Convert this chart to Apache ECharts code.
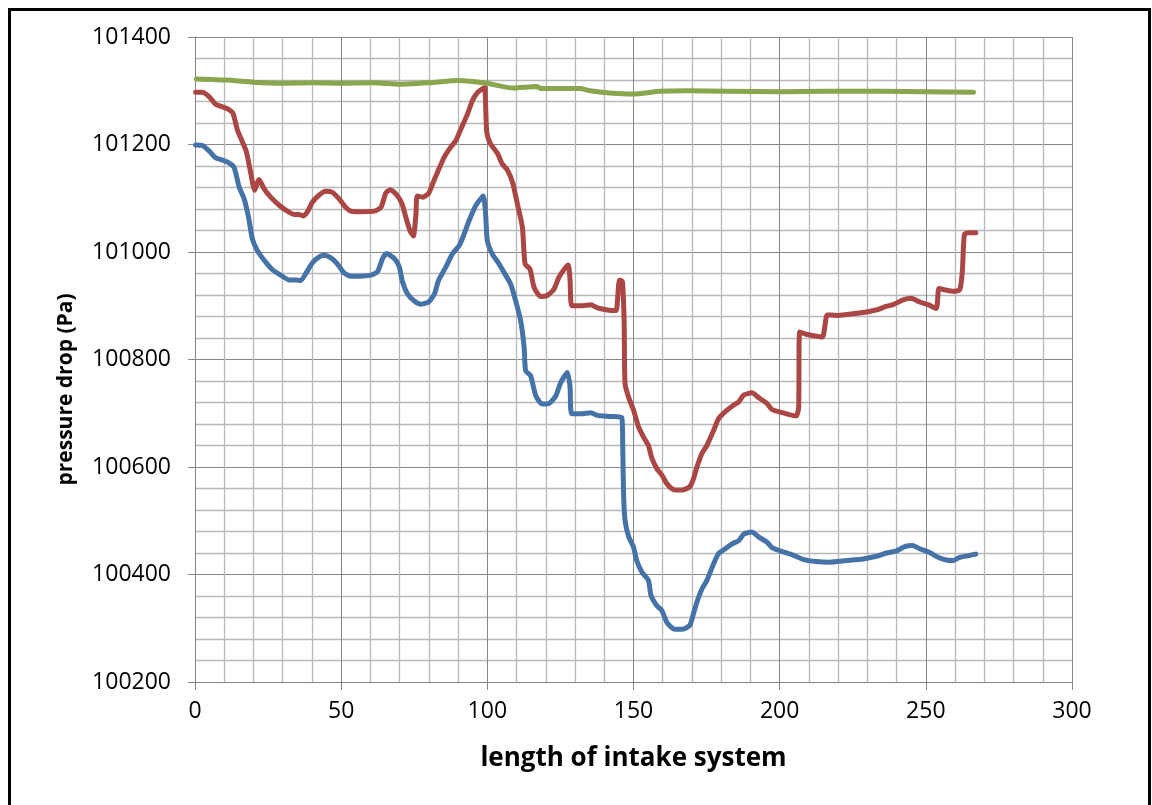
<!DOCTYPE html>
<html>
<head>
<meta charset="utf-8">
<script src="https://cdn.jsdelivr.net/npm/echarts@6/dist/echarts.min.js"></script>
<style>
  html, body { margin: 0; padding: 0; background: #fff; }
  #frame {
    position: absolute; left: 8px; top: 8px;
    width: 1143px; height: 900px;
    box-sizing: border-box; border: 3px solid #000;
  }
  #main { position: absolute; left: 0; top: 0; width: 1152px; height: 805px; }
</style>
</head>
<body>
<div id="frame"></div>
<div id="main"></div>
<script>
// x positions (length of intake system) and pressures (Pa)
const blueX = [0.2, 2.5, 4.8, 7.1, 9.4, 11.6, 13.4, 15.1, 16.8, 18.3, 19.6, 21.3, 23.6, 26.5, 29.3, 32.2, 34.5, 36.2, 37.9, 40.2,
  42.5, 44.1, 46.5, 48.7, 51, 53.3, 56.2, 60.2, 62.4, 64.2, 65.5, 68.2, 69.9, 71, 72.7, 75, 77.3, 79.9, 81.9, 83.3,
  85.8, 88.1, 90.4, 92.1, 93.8, 96.1, 98.6, 99.4, 100, 101.7, 104, 105.7, 108, 109.7, 111.4, 112.6, 113.1, 114.8, 116.6, 118.8,
  121.1, 123.4, 125.1, 127.4, 128.3, 128.8, 132, 135.4, 137.7, 142.2, 146, 146.3, 146.6, 147.1, 148.3, 150, 151.1, 152.9, 155.1, 156,
  158, 159.7, 161.4, 163.7, 166.6, 169.2, 170.5, 171.9, 173.4, 175.1, 177.4, 179.1, 181.4, 183.7, 186, 187.7, 190.5, 192.8, 195.7, 197.4,
  200.2, 204.6, 208, 212.5, 217.1, 222.8, 228.5, 233.1, 236.5, 240, 242.8, 245.4, 247.9, 251.3, 254.2, 257, 259.3, 261.6, 264.5, 267.1];
const blueY = [101199, 101198, 101188, 101175, 101171, 101166, 101157, 101121, 101099, 101065, 101025, 101003, 100985, 100967, 100957, 100948, 100948, 100947, 100960, 100980,
  100991, 100994, 100989, 100978, 100961, 100955, 100955, 100957, 100963, 100988, 100997, 100988, 100972, 100944, 100922, 100909, 100903, 100907, 100922, 100947,
  100972, 100997, 101012, 101034, 101059, 101087, 101104, 101071, 101021, 100996, 100978, 100962, 100940, 100909, 100872, 100822, 100779, 100770, 100732, 100717,
  100718, 100732, 100757, 100776, 100748, 100699, 100699, 100701, 100696, 100694, 100692, 100644, 100550, 100501, 100471, 100451, 100426, 100404, 100389, 100361,
  100342, 100333, 100311, 100299, 100298, 100305, 100327, 100352, 100373, 100389, 100420, 100439, 100448, 100457, 100463, 100475, 100479, 100470, 100460, 100450,
  100444, 100436, 100428, 100424, 100423, 100426, 100429, 100434, 100440, 100444, 100452, 100454, 100448, 100441, 100432, 100427, 100426, 100432, 100435, 100438];

const redX = [0.2, 2.5, 4.8, 7.1, 9.4, 11.6, 13, 14.5, 16.2, 17.6, 19.1, 20.4, 21.9, 23.6, 25.9, 28.8, 31.6, 33.9, 35.6, 37.1,
  38.5, 40.2, 42.5, 44.7, 47, 49.3, 51.4, 53.3, 56.2, 61.3, 63.6, 65.3, 66.8, 68.9, 70.8, 72.1, 73.5, 74.7, 75.6, 76,
  77.9, 79.9, 81.3, 83, 85.3, 87.6, 89.3, 91.3, 93.3, 95, 96.7, 98.4, 99.1, 99.8, 101.1, 103.4, 105.1, 106.8, 108.6, 110.3,
  112, 112.9, 114.6, 116, 118.3, 120.5, 122.8, 124.5, 126.3, 127.7, 128.3, 128.9, 132, 135.4, 137.7, 141.1, 144, 144.5, 145.2, 146.2,
  146.8, 147.1, 148.3, 150, 151.7, 153.4, 155.1, 156.3, 158, 159.7, 161.4, 163.7, 166.6, 169.2, 170.5, 171.7, 173.4, 175.1, 177.4, 179.1,
  181.4, 184.2, 186, 187.7, 190.5, 192.8, 195.7, 197.4, 200.2, 203, 205.7, 206.5, 206.8, 209.1, 214.6, 215.4, 216.3, 220, 225.1, 230.2,
  233.6, 235.9, 238.8, 242.2, 245, 247.9, 250.8, 253.6, 254.5, 257, 259.3, 261.6, 262.5, 263.2, 264.8, 267.1];
const redY = [101297, 101297, 101289, 101275, 101270, 101265, 101258, 101227, 101205, 101186, 101146, 101115, 101135, 101118, 101102, 101087, 101076, 101070, 101070, 101067,
  101075, 101093, 101106, 101113, 101111, 101099, 101084, 101076, 101075, 101076, 101083, 101110, 101116, 101107, 101090, 101065, 101040, 101030, 101071, 101104,
  101102, 101109, 101127, 101149, 101177, 101196, 101208, 101233, 101258, 101283, 101297, 101304, 101306, 101223, 101201, 101184, 101164, 101153, 101130, 101089,
  101046, 100978, 100968, 100934, 100917, 100919, 100931, 100953, 100968, 100976, 100947, 100900, 100900, 100902, 100896, 100892, 100891, 100909, 100948, 100945,
  100870, 100755, 100730, 100706, 100675, 100656, 100640, 100616, 100597, 100585, 100569, 100558, 100557, 100563, 100578, 100600, 100625, 100640, 100668, 100690,
  100703, 100715, 100721, 100734, 100738, 100729, 100718, 100707, 100702, 100698, 100695, 100712, 100851, 100847, 100842, 100859, 100883, 100882, 100885, 100889,
  100893, 100898, 100902, 100911, 100914, 100907, 100902, 100895, 100932, 100929, 100927, 100930, 100965, 101033, 101036, 101036];

const greenX = [0.5, 10.7, 19.9, 30, 40.4, 50.1, 60.9, 70, 80.3, 90, 99.7, 108.8, 116.8, 118.4, 131.7, 135.1, 141.9, 149.9, 159, 168.2,
  181.9, 200.1, 216.1, 234.3, 250.3, 266.3];
const greenY = [101322, 101320, 101316, 101314, 101315, 101314, 101315, 101312, 101315, 101319, 101314, 101305, 101308, 101304, 101304, 101300, 101296, 101294, 101299, 101300,
  101299, 101298, 101299, 101299, 101298, 101297];

const xTicks = [0, 300, 50];            // min, max, interval
const yTicks = [100200, 101400, 200];   // min, max, interval

function pairs(xs, ys) {
  return xs.map(function (x, i) { return [x, ys[i]]; });
}

const chart = echarts.init(document.getElementById('main'), null, { renderer: 'canvas' });
const FONT = '"Open Sans", "Liberation Sans", sans-serif';
const MAJOR = '#868686';
const MINOR = '#b8b8b8';

function lineSeries(name, data, color) {
  return {
    name: name,
    type: 'line',
    data: data,
    showSymbol: false,
    smooth: 0.2,
    lineStyle: { color: color, width: 5, cap: 'round', join: 'round' },
    itemStyle: { color: color },
    animation: false
  };
}

chart.setOption({
  backgroundColor: 'transparent',
  animation: false,
  grid: { left: 195, right: 80, top: 37, bottom: 123 },
  xAxis: {
    type: 'value',
    min: xTicks[0], max: xTicks[1], interval: xTicks[2],
    name: 'length of intake system',
    nameLocation: 'middle',
    nameGap: 64,
    nameTextStyle: { fontFamily: FONT, fontSize: 26, fontWeight: 'bold', color: '#000' },
    axisLine: { show: true, lineStyle: { color: MAJOR, width: 1 } },
    axisTick: { show: true, length: 8, lineStyle: { color: MAJOR } },
    axisLabel: { fontFamily: FONT, fontSize: 23, color: '#000', margin: 18 },
    splitLine: { show: true, lineStyle: { color: MAJOR, width: 1 } },
    minorTick: { show: false, splitNumber: 5 },
    minorSplitLine: { show: true, lineStyle: { color: MINOR, width: 1.3 } }
  },
  yAxis: {
    type: 'value',
    min: yTicks[0], max: yTicks[1], interval: yTicks[2],
    name: 'pressure drop (Pa)',
    nameLocation: 'middle',
    nameRotate: 90,
    nameGap: 118,
    nameTextStyle: { fontFamily: FONT, fontSize: 21, fontWeight: 'bold', color: '#000', padding: [0, 60, 0, 0] },
    axisLine: { show: true, lineStyle: { color: MAJOR, width: 1 } },
    axisTick: { show: true, length: 7, lineStyle: { color: MAJOR } },
    axisLabel: { fontFamily: FONT, fontSize: 23, color: '#000', margin: 24, formatter: function (v) { return String(v); } },
    splitLine: { show: true, lineStyle: { color: MAJOR, width: 1 } },
    minorTick: { show: false, splitNumber: 5 },
    minorSplitLine: { show: true, lineStyle: { color: MINOR, width: 1.3 } }
  },
  series: [
    lineSeries('Series1', pairs(blueX, blueY), '#4572A7'),
    lineSeries('Series2', pairs(redX, redY), '#AA4643'),
    lineSeries('Series3', pairs(greenX, greenY), '#89A54E')
  ]
});
</script>
</body>
</html>
